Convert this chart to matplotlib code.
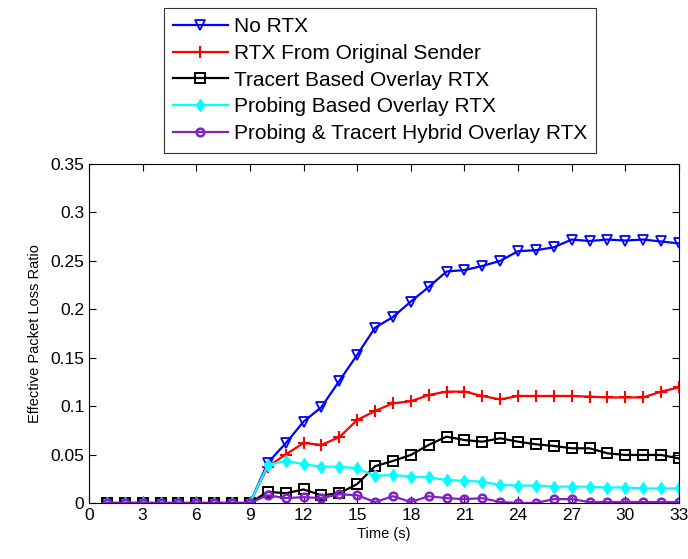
import matplotlib
matplotlib.use("Agg")
import matplotlib.pyplot as plt
import numpy as np

plt.rcParams['font.family'] = ['Liberation Sans', 'DejaVu Sans']

time = list(range(1, 34))
no_rtx = [0]*9 + [0.0416, 0.0616, 0.084, 0.099, 0.126, 0.153, 0.181, 0.192, 0.208, 0.223, 0.239,
                  0.2405, 0.2447, 0.250, 0.260, 0.261, 0.264, 0.272, 0.2705, 0.272, 0.271, 0.272,
                  0.270, 0.268]
rtx_orig = [0]*9 + [0.0375, 0.050, 0.062, 0.060, 0.068, 0.0857, 0.095, 0.103, 0.105, 0.1115, 0.115,
                    0.115, 0.1105, 0.107, 0.1105, 0.1105, 0.1105, 0.1105, 0.1098, 0.109, 0.109,
                    0.109, 0.115, 0.1194]
tracert = [0]*9 + [0.0117, 0.010, 0.014, 0.008, 0.010, 0.0196, 0.038, 0.0434, 0.0496, 0.060, 0.0685,
                   0.065, 0.0633, 0.0668, 0.0633, 0.0606, 0.0589, 0.0565, 0.0565, 0.0513, 0.0496,
                   0.0496, 0.0496, 0.046]
probing = [0]*9 + [0.039, 0.0437, 0.040, 0.0375, 0.0375, 0.0358, 0.0279, 0.029, 0.0272, 0.0265, 0.0237,
                   0.023, 0.022, 0.0186, 0.018, 0.018, 0.0169, 0.0169, 0.0169, 0.016, 0.016,
                   0.015, 0.015, 0.015]
hybrid = [0]*9 + [0.008, 0.005, 0.006, 0.005, 0.009, 0.008, 0.001, 0.007, 0.001, 0.007, 0.005,
                  0.004, 0.005, 0.001, 0.0, 0.0, 0.004, 0.004, 0.001, 0.001, 0.001,
                  0.001, 0.001, 0.001]

labels = ["No RTX", "RTX From Original Sender", "Tracert Based Overlay RTX",
          "Probing Based Overlay RTX", "Probing & Tracert Hybrid Overlay RTX"]

fig = plt.figure(figsize=(6.88, 5.59), dpi=100)
ax = fig.add_axes([89/688, (559-503)/559, (679-89)/688, (503-164)/559])

lw = 1.6
purple = '#8020c8'
ax.plot(time, no_rtx, color='#0000ff', marker='v', mfc='none', mec='#0000ff', ms=6.5, lw=lw, mew=1.3, label=labels[0])
ax.plot(time, rtx_orig, color='#ff0000', marker='+', ms=9, lw=lw, mew=1.5, label=labels[1])
ax.plot(time, tracert, color='black', marker='s', mfc='none', ms=6.5, lw=lw, mew=1.4, label=labels[2])
ax.plot(time, probing, color='#00ffff', marker='d', ms=6, lw=lw, label=labels[3])
ax.plot(time, hybrid, color=purple, marker='o', mfc='none', ms=5.5, lw=lw, mew=1.8, label=labels[4])

ax.set_xlim(0, 33)
ax.set_ylim(0, 0.35)
ax.set_xticks(np.arange(0, 34, 3))
yt = np.arange(0, 0.351, 0.05)
ax.set_yticks(yt)
ax.set_yticklabels(["0", "0.05", "0.1", "0.15", "0.2", "0.25", "0.3", "0.35"])
ax.tick_params(direction='in', top=True, right=True, labelsize=12.5, length=5, width=0.8)
for s in ax.spines.values():
    s.set_linewidth(0.8)

ax.set_xlabel("Time (s)", fontsize=10.5, labelpad=3)
ax.set_ylabel("Effective Packet Loss Ratio", fontsize=10.5, labelpad=6)

leg = fig.legend(loc='upper left', bbox_to_anchor=(164/688, 1-8/559), borderaxespad=0,
                 fontsize=15, frameon=True, fancybox=False, edgecolor='black',
                 handlelength=2.6, labelspacing=0.37, handletextpad=0.3, borderpad=0.45)
leg.get_frame().set_linewidth(0.8)

fig.savefig("out.png", dpi=100)
